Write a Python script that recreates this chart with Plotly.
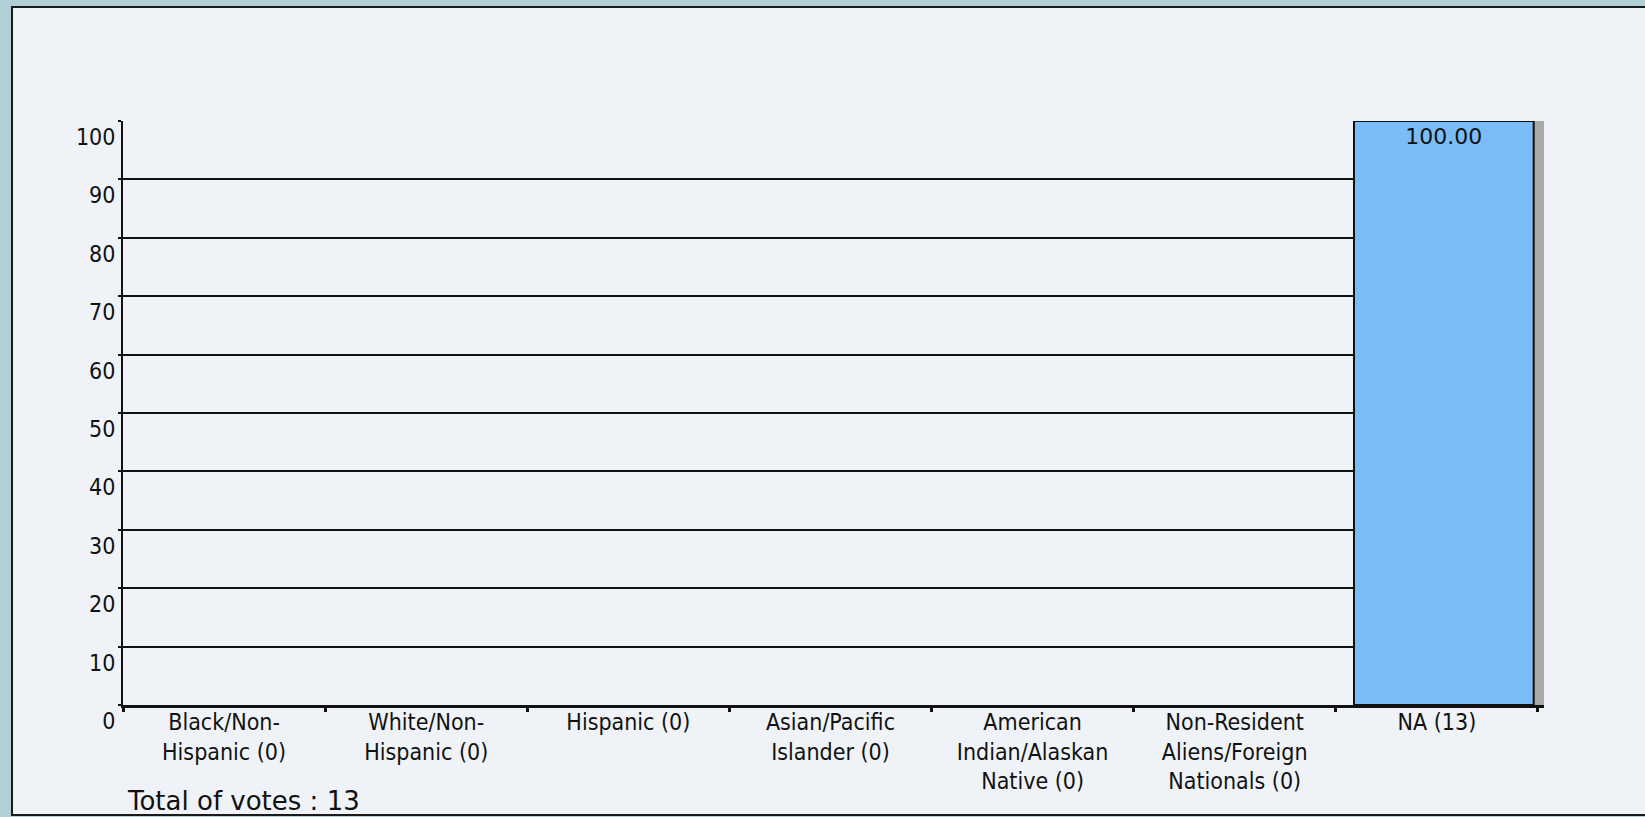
import plotly.graph_objects as go

categories = [
    "Black/Non-<br>Hispanic (0)",
    "White/Non-<br>Hispanic (0)",
    "Hispanic (0)",
    "Asian/Pacific<br>Islander (0)",
    "American<br>Indian/Alaskan<br>Native (0)",
    "Non-Resident<br>Aliens/Foreign<br>Nationals (0)",
    "NA (13)",
]
percentages = [0, 0, 0, 0, 0, 0, 100]
y_ticks = [0, 10, 20, 30, 40, 50, 60, 70, 80, 90, 100]
total_votes = 13

FONT = "DejaVu Sans Condensed, DejaVu Sans, sans-serif"
WIDE = "DejaVu Sans, sans-serif"
bar_text = [f"{v:.2f}" if v > 0 else "" for v in percentages]
outline_w = [2 if v > 0 else 0 for v in percentages]

fig = go.Figure()
# 3D-style shadow of each bar
fig.add_trace(go.Bar(
    x=categories, y=percentages,
    width=0.06, offset=0.47,
    marker=dict(color="#a9a9a9", line=dict(width=0)),
    hoverinfo="skip", showlegend=False,
))
fig.add_trace(go.Bar(
    x=categories, y=percentages,
    width=0.889, offset=-0.41,
    marker=dict(color="#7abcf8", line=dict(color="#111111", width=outline_w)),
    text=bar_text, textposition="inside", insidetextanchor="end",
    textangle=0, textfont=dict(color="#111111", size=22, family=WIDE),
    showlegend=False,
))

fig.update_layout(
    width=1645, height=817,
    margin=dict(l=123, r=101, t=121, b=112),
    paper_bgcolor="#b0cfd6",
    plot_bgcolor="#eff3f8",
    barmode="overlay",
    font=dict(family=FONT, size=23, color="#111111"),
    showlegend=False,
    shapes=[
        dict(type="rect", xref="paper", yref="paper",
             xsizemode="pixel", ysizemode="pixel", xanchor=0, yanchor=0,
             x0=-111, x1=1600, y0=-110, y1=698,
             fillcolor="#eff3f8", line=dict(color="#1a1a1a", width=2),
             layer="below"),
    ],
    annotations=[
        dict(text=f"Total of votes : {total_votes}", xref="paper", yref="paper",
             xanchor="left", yanchor="middle",
             x=2 / 1421, y=-96 / 584, showarrow=False,
             font=dict(family=WIDE, size=26, color="#111111")),
    ],
)

fig.update_xaxes(
    type="category", range=[-0.5, 6.53],
    showline=True, linecolor="#111111", linewidth=3,
    ticks="outside", tickson="boundaries", ticklen=4, tickwidth=3, tickcolor="#111111",
    ticklabelstandoff=-6,
    showgrid=False, tickfont=dict(family=FONT, size=23, color="#111111"),
    fixedrange=True,
)
fig.update_yaxes(
    range=[0, 100], tickmode="array", tickvals=y_ticks,
    showline=True, linecolor="#111111", linewidth=2,
    showgrid=True, gridcolor="#111111", gridwidth=2,
    zeroline=False,
    ticks="outside", ticklen=3, tickwidth=2, tickcolor="#111111",
    ticklabelshift=16, ticklabelstandoff=-2,
    tickfont=dict(family=FONT, size=23, color="#111111"),
    fixedrange=True,
)

fig.write_html("out.html", config={"displayModeBar": False},
               post_script="document.body.style.margin='0';")
